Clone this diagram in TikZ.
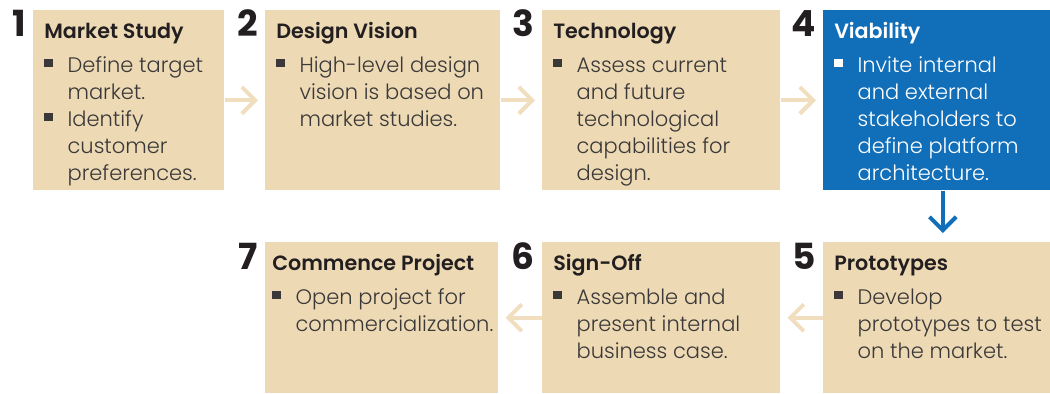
\documentclass[tikz,border=0pt]{standalone}
\usepackage{fontspec}
\setmainfont{Poppins Light}[BoldFont={Poppins SemiBold}]
\newfontfamily\numfont{Poppins Bold}
\usetikzlibrary{arrows.meta}
\definecolor{sand}{HTML}{EDDAB5}
\definecolor{sandarrow}{HTML}{F0DEBE}
\definecolor{stepblue}{HTML}{116EB8}
\definecolor{ink}{HTML}{231F20}
\definecolor{bodyink}{HTML}{3A3838}
\newcommand{\sq}{\rule[3.5pt]{6.5pt}{6.5pt}}
\newcommand{\pts}[1]{\fontsize{15.75}{20.25}\selectfont
  \begin{tabular}[t]{@{}p{17.5pt}@{}l@{}}#1\end{tabular}}

\begin{document}
\begin{tikzpicture}[x=0.75pt,y=-0.75pt,
  box/.style={fill=sand,inner sep=0pt,anchor=north west,minimum height=135pt},
  lowbox/.style={box,minimum height=113.25pt},
  hot/.style={fill=stepblue},
  num/.style={anchor=base east,inner sep=0pt,text=ink,font=\fontsize{27}{27}\selectfont\numfont},
  head/.style={anchor=base west,inner sep=0pt,text=ink,font=\fontsize{15.5}{17}\selectfont\bfseries},
  body/.style={anchor=base west,inner sep=0pt,text=bodyink},
  flow/.style={line width=3pt,draw=sandarrow,-{Straight Barb[length=10pt,width=20pt]},shorten >=5.25pt},
  hotflow/.style={flow,draw=stepblue,shorten >=6.75pt}]
  \useasboundingbox (0,0) rectangle (1050,393);

  \node[box,minimum width=143.25pt] (b1) at (33,10) {};
  \node[box,minimum width=176.25pt] (b2) at (265,10) {};
  \node[box,minimum width=178.5pt] (b3) at (542,10) {};
  \node[box,hot,minimum width=170.25pt] (b4) at (823,10) {};
  \node[lowbox,minimum width=170.25pt] (b5) at (823,242) {};
  \node[lowbox,minimum width=178.5pt] (b6) at (542,242) {};
  \node[lowbox,minimum width=174.75pt] (b7) at (265,242) {};

  \node[num] (n1) at ([shift={(-7,26)}]b1.north west) {1};
  \node[num] (n2) at ([shift={(-7,26)}]b2.north west) {2};
  \node[num] (n3) at ([shift={(-7,26)}]b3.north west) {3};
  \node[num] (n4) at ([shift={(-7,26)}]b4.north west) {4};
  \node[num] (n5) at ([shift={(-7,27)}]b5.north west) {5};
  \node[num] (n6) at ([shift={(-7,27)}]b6.north west) {6};
  \node[num] (n7) at ([shift={(-7,27)}]b7.north west) {7};

  \node[head] (h1) at ([shift={(11,28)}]b1.north west) {Market Study};
  \node[head] (h2) at ([shift={(11,28)}]b2.north west) {Design Vision};
  \node[head] (h3) at ([shift={(11,28)}]b3.north west) {Technology};
  \node[head,text=white] (h4) at ([shift={(11,28)}]b4.north west) {Viability};
  \node[head] (h5) at ([shift={(11,28)}]b5.north west) {Prototypes};
  \node[head] (h6) at ([shift={(11,28)}]b6.north west) {Sign-Off};
  \node[head] (h7) at ([shift={(7,28)}]b7.north west) {Commence Project};

  \node[body] (t1) at ([shift={(11,62)}]b1.north west)
    {\pts{\sq & Define target\\ & market.\\ \sq & Identify\\ & customer\\ & preferences.}};
  \node[body] (t2) at ([shift={(11,62)}]b2.north west)
    {\pts{\sq & High-level design\\ & vision is based on\\ & market studies.}};
  \node[body] (t3) at ([shift={(11,62)}]b3.north west)
    {\pts{\sq & Assess current\\ & and future\\ & technological\\ & capabilities for\\ & design.}};
  \node[body,text=white] (t4) at ([shift={(11,62)}]b4.north west)
    {\pts{\sq & Invite internal\\ & and external\\ & stakeholders to\\ & define platform\\ & architecture.}};
  \node[body] (t5) at ([shift={(11,62)}]b5.north west)
    {\pts{\sq & Develop\\ & prototypes to test\\ & on the market.}};
  \node[body] (t6) at ([shift={(11,62)}]b6.north west)
    {\pts{\sq & Assemble and\\ & present internal\\ & business case.}};
  \node[body] (t7) at ([shift={(7,62)}]b7.north west)
    {\pts{\sq & Open project for\\ & commercialization.}};

  \draw[flow] (b1) -- (b2);
  \draw[flow] (b2) -- (b3);
  \draw[flow] (b3) -- (b4);
  \draw[hotflow] ([xshift=4.5pt]b4.south) -- ([xshift=4.5pt]b5.north);
  \draw[flow] (b5) -- (b6);
  \draw[flow] (b6) -- (b7);
\end{tikzpicture}
\end{document}
